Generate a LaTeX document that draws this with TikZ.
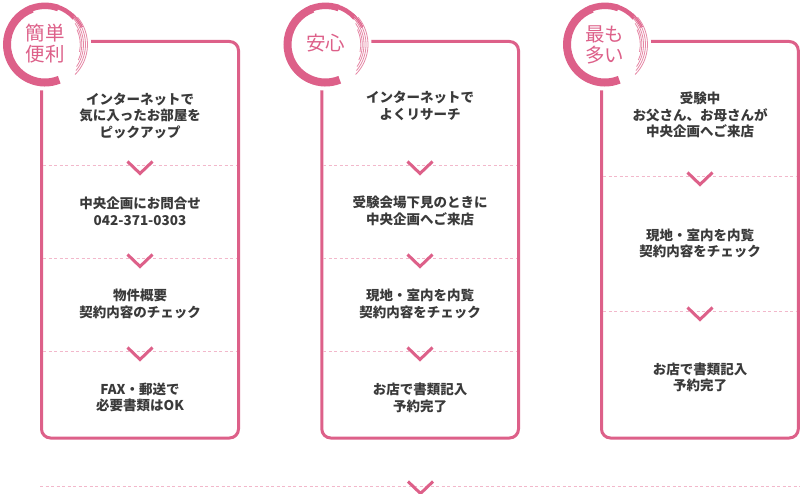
\documentclass[tikz,border=0pt]{standalone}
\usepackage{fontspec}
\newfontfamily\jp{Noto Sans CJK JP}
\definecolor{pk}{HTML}{DD6089}
\definecolor{pkl}{HTML}{F2B8CB}
\definecolor{tx}{HTML}{3A3A3A}
\tikzset{
  boxline/.style={draw=pk, line width=3pt, rounded corners=9pt},
  sepline/.style={draw=pkl, line width=1pt, dash pattern=on 3pt off 2.5pt},
  chev/.style={draw=pk, line width=3pt, miter limit=10},
  txt/.style={text=tx, font=\jp\bfseries\fontsize{13.5}{16.5}\selectfont, align=center, inner sep=0pt},
  badgetxt/.style={text=pk, font=\jp\fontsize{19.5}{21}\selectfont, align=center, inner sep=0pt},
  hair/.style={draw=pk!75, line width=0.8pt},
}
\newcommand\mychev[2]{\draw[chev] (#1-12.5,#2-4.5) -- (#1,#2+7.5) -- (#1+12.5,#2-4.5);}
\newcommand\myring[2]{%
  \fill[white] (#1,#2) circle (46);
  \draw[pk, line width=8pt] (#1,#2) ++(68:38) arc[start angle=68, end angle=250, radius=38];
  \draw[pk, line width=6.5pt] (#1,#2) ++(245:38.7) arc[start angle=245, end angle=290, radius=38.7];
  \draw[pk, line width=4.5pt] (#1,#2) ++(285:39.6) arc[start angle=285, end angle=318, radius=39.6];
  \draw[pk, line width=2.5pt] (#1,#2) ++(312:40.6) arc[start angle=312, end angle=335, radius=40.6];
  \draw[hair] (#1,#2) ++(320:42.5) arc[start angle=320, end angle=405, radius=42.5];
  \draw[hair] (#1,#2) ++(315:40.5) arc[start angle=315, end angle=400, radius=40.5];
  \draw[hair] (#1,#2) ++(318:38.5) arc[start angle=318, end angle=395, radius=38.5];
  \draw[hair] (#1,#2) ++(325:36.8) arc[start angle=325, end angle=385, radius=36.8];
  \draw[hair] (#1,#2) ++(335:35.3) arc[start angle=335, end angle=372, radius=35.3];
}
\begin{document}
\begin{tikzpicture}[x=1pt,y=-1pt]
\useasboundingbox (0,0) rectangle (801,494);
\fill[white] (0,0) rectangle (801,494);

% boxes
\draw[boxline] (41.5,41.5) rectangle (238.5,438);
\draw[boxline] (321.8,41.5) rectangle (518.5,438);
\draw[boxline] (601.5,41.5) rectangle (798.3,438);

% separators left & middle
\foreach \yy in {166,259,352}{
  \draw[sepline] (43,\yy) -- (237,\yy);
  \draw[sepline] (323.3,\yy) -- (517,\yy);
  \mychev{140}{\yy}
  \mychev{420}{\yy}
}
% separators right
\foreach \yy in {177,312}{
  \draw[sepline] (603,\yy) -- (796.8,\yy);
  \mychev{700}{\yy}
}
% bottom
\draw[sepline] (40,486) -- (800,486);
\mychev{420.5}{486}

% badges
\myring{45}{44.5}
\myring{325.5}{44.5}
\myring{605}{44.5}
\node[badgetxt] (b1) at (45,44) {簡単\\便利};
\node[badgetxt] (b2) at (325.5,43.5) {安心};
\node[badgetxt] (b3) at (604.5,45) {最も\\多い};

% texts left
\node[txt] (l1) at (140,115.5) {インターネットで\\気に入ったお部屋を\\ピックアップ};
\node[txt] (l2) at (140,211.5) {中央企画にお問合せ\\042-371-0303};
\node[txt] (l3) at (140,304) {物件概要\\契約内容のチェック};
\node[txt] (l4) at (140,397.5) {FAX・郵送で\\必要書類はOK};
% texts middle
\node[txt] (m1) at (420,106) {インターネットで\\よくリサーチ};
\node[txt] (m2) at (420,211) {受験会場下見のときに\\中央企画へご来店};
\node[txt] (m3) at (420,304) {現地・室内を内覧\\契約内容をチェック};
\node[txt] (m4) at (420,398) {お店で書類記入\\予約完了};
% texts right
\node[txt] (r1) at (700,115) {受験中\\お父さん、お母さんが\\中央企画へご来店};
\node[txt] (r2) at (700,243.5) {現地・室内を内覧\\契約内容をチェック};
\node[txt] (r3) at (700,377.5) {お店で書類記入\\予約完了};
\end{tikzpicture}
\end{document}
